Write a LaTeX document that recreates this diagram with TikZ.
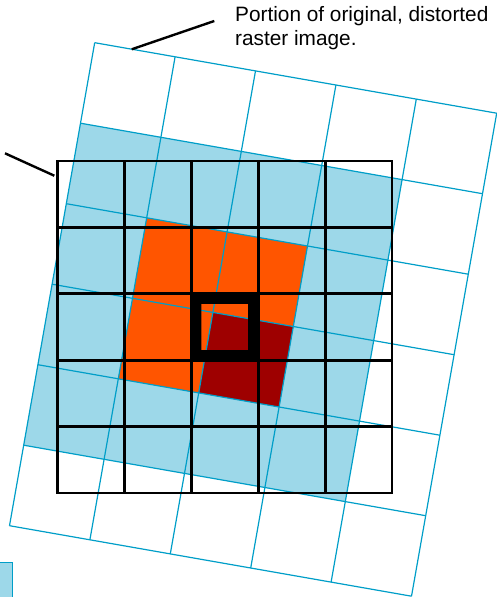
\documentclass[tikz,border=0pt]{standalone}
\usepackage{fontspec}
\setmainfont{Liberation Sans}
\usetikzlibrary{positioning}
\definecolor{rasterblue}{RGB}{0,158,200}
\definecolor{cellblue}{RGB}{157,216,233}
\definecolor{cellorange}{RGB}{255,85,0}
\definecolor{cellred}{RGB}{158,0,0}

\begin{document}
\begin{tikzpicture}[x=1pt, y=-1pt,
  rline/.style={draw=rasterblue, line width=1.2pt},
  bline/.style={draw=black, line width=2.8pt, line cap=rect},
  leader/.style={draw=black, line width=2.4pt},
  caption/.style={font=\fontsize{20.8}{24}\selectfont, align=left, inner sep=0pt, anchor=base west}]
  \useasboundingbox (0,0) rectangle (497,597);
  \clip (0,0) rectangle (497,597);

  \begin{scope}[shift={(94.7,42.7)}, x={(80.4pt,-14.1pt)}, y={(-14.2pt,-80.5pt)}]
    \fill[cellblue]   (0,1) -- (4,1) -- (4,5) -- (0,5) -- cycle;
    \fill[cellorange] (1,2) -- (3,2) -- (3,4) -- (1,4) -- cycle;
    \fill[cellred]    (2,3) -- (3,3) -- (3,4) -- (2,4) -- cycle;
    \foreach \i in {0,...,5} \draw[rline] (\i,0) -- (\i,6);
    \foreach \j in {0,...,6} \draw[rline] (0,\j) -- (5,\j);
  \end{scope}

  \begin{scope}[shift={(57.5,161)}, x={(66.9pt,0pt)}, y={(0pt,-66.4pt)}]
    \foreach \k in {0,...,5} {
      \draw[bline] (\k,0) -- (\k,5);
      \draw[bline] (0,\k) -- (5,\k);
    }
    \fill[even odd rule] (2,2) rectangle (3,3)
      ([shift={(10pt,-10pt)}]2,2) rectangle ([shift={(-10pt,10pt)}]3,3);
  \end{scope}

  \node[caption] (caption) at (235,45) {Portion of original, distorted\\raster image.};
  \coordinate (capfoot) at (131.7,49.3);
  \coordinate (capend)  at (214.3,21);
  \draw[leader] (capfoot) -- (capend);
  \coordinate (gridend)  at (5,153.3);
  \coordinate (gridfoot) at (54.3,175.7);
  \draw[leader] (gridend) -- (gridfoot);

  \draw[rline, fill=cellblue] (-5,562.7) rectangle (12.7,605);
\end{tikzpicture}
\end{document}
